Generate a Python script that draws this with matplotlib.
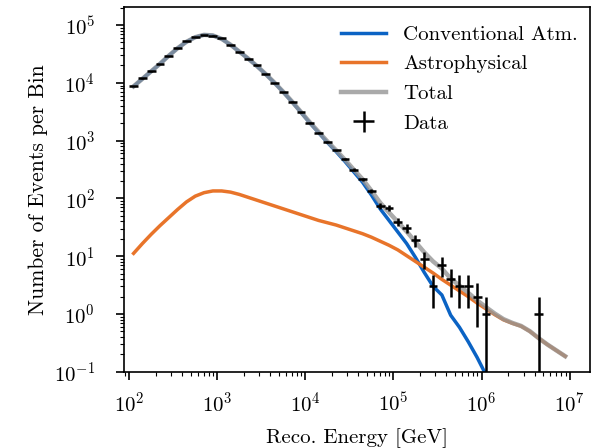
import numpy as np
import matplotlib
matplotlib.use("Agg")
import matplotlib.pyplot as plt

plt.rcParams['font.family'] = ['cmr10', 'DejaVu Serif']
plt.rcParams['mathtext.fontset'] = 'cm'
plt.rcParams['axes.formatter.use_mathtext'] = True

# log10 of bin centres (GeV)
log_e = [2.05 + 0.1 * i for i in range(50)]

# Conventional atmospheric expectation (log10 events per bin)
conv_log = [3.94, 4.07, 4.20, 4.33, 4.47, 4.60, 4.71, 4.79, 4.83, 4.82,
            4.76, 4.66, 4.54, 4.42, 4.29, 4.15, 4.00, 3.84, 3.67, 3.49,
            3.31, 3.14, 2.97, 2.81, 2.64, 2.46, 2.28, 2.06, 1.82, 1.62,
            1.42, 1.22, 0.98, 0.72, 0.48, 0.33, -0.02, -0.23, -0.48, -0.75,
            -1.05, -1.35, -1.65, -1.95, -2.25, -2.55, -2.85, -3.15, -3.45, -3.75]

# Astrophysical expectation (log10 events per bin)
astro_log = [1.05, 1.22, 1.38, 1.53, 1.67, 1.81, 1.94, 2.04, 2.10, 2.13,
             2.13, 2.11, 2.07, 2.02, 1.97, 1.92, 1.87, 1.82, 1.77, 1.72,
             1.67, 1.62, 1.58, 1.54, 1.49, 1.44, 1.39, 1.33, 1.26, 1.19,
             1.11, 1.01, 0.91, 0.81, 0.71, 0.60, 0.50, 0.40, 0.30, 0.19,
             0.09, -0.01, -0.10, -0.16, -0.21, -0.30, -0.42, -0.53, -0.63, -0.73]

# Observed data
data_log_e = [2.05, 2.15, 2.25, 2.35, 2.45, 2.55, 2.65, 2.75, 2.85, 2.95,
              3.05, 3.15, 3.25, 3.35, 3.45, 3.55, 3.65, 3.75, 3.85, 3.95,
              4.05, 4.15, 4.25, 4.35, 4.45, 4.55, 4.65, 4.75, 4.85, 4.95,
              5.05, 5.15, 5.25, 5.35, 5.45, 5.55, 5.65, 5.75, 5.85, 5.95,
              6.05, 6.65]
data_counts = [8900, 12000, 15800, 21400, 29500, 39800, 52500, 63000, 67600, 66000,
               58900, 45700, 34700, 26300, 20000, 14100, 10000, 6900, 4700, 3100,
               2040, 1380, 955, 676, 479, 316, 214, 135, 74, 68,
               39, 31, 19, 9, 3, 7, 4, 3, 3, 2,
               1, 1]

half_bin = 0.05

energy = 10 ** np.array(log_e)
conv = 10 ** np.array(conv_log)
astro = 10 ** np.array(astro_log)
total = conv + astro

de = np.array(data_log_e)
dE = 10 ** de
dN = np.array(data_counts, dtype=float)
yerr = np.sqrt(dN)
xerr = [dE - 10 ** (de - half_bin), 10 ** (de + half_bin) - dE]

fig = plt.figure(figsize=(5.97, 4.48), dpi=100)
ax = fig.add_axes([0.208, 0.170, 0.780, 0.814])

ax.plot(energy, conv, color='#0b63c4', lw=2.5, label='Conventional Atm.', zorder=2)
ax.plot(energy, astro, color='#e8742a', lw=2.5, label='Astrophysical', zorder=2)
ax.plot(energy, total, color='#959595', lw=3.2, alpha=0.8, label='Total', zorder=3)
ax.errorbar(dE, dN, xerr=xerr, yerr=[yerr, yerr], fmt='none', ecolor='black',
            elinewidth=1.8, capsize=0, label='Data', zorder=4)

ax.set_xscale('log')
ax.set_yscale('log')
ax.set_xlim(10 ** 1.943, 10 ** 7.23)
ax.set_ylim(1e-1, 10 ** 5.31)

ax.set_xlabel('Reco. Energy [GeV]', fontsize=15, labelpad=9)
ax.set_ylabel('Number of Events per Bin', fontsize=15.5, labelpad=4)
ax.tick_params(axis='both', which='major', labelsize=15, length=6, width=1.2, direction='out')
ax.tick_params(axis='both', which='minor', length=3, width=0.8, direction='out')
ax.tick_params(axis='x', which='major', pad=8)
ax.tick_params(axis='y', which='major', pad=15)
for s in ax.spines.values():
    s.set_linewidth(1.2)

leg = ax.legend(loc='upper right', bbox_to_anchor=(1.028, 1.019), frameon=False,
                fontsize=15, handlelength=2.2, borderaxespad=0.8,
                labelspacing=0.53, handletextpad=0.8)

fig.savefig('out.png', dpi=100)
